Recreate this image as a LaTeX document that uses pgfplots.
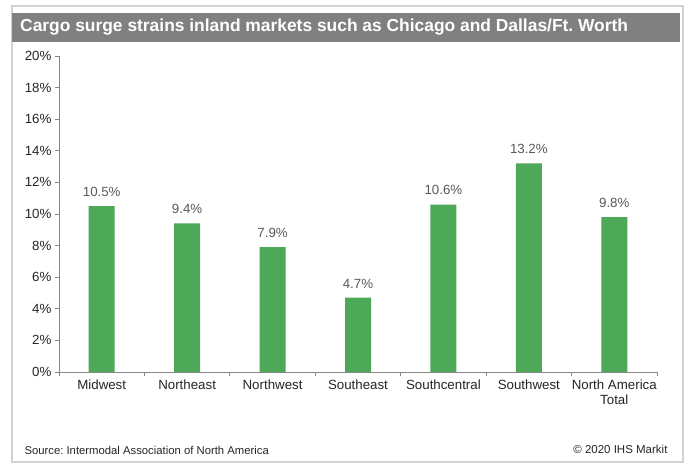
\documentclass[border=0pt]{standalone}
\usepackage{pgfplots}
\pgfplotsset{compat=1.18}
\usepackage{fontspec}
\setmainfont{Liberation Sans}
\frenchspacing
\definecolor{barg}{RGB}{77,168,87}
\definecolor{titlegray}{RGB}{128,128,128}
\definecolor{axgray}{RGB}{134,134,134}
\begin{document}
\begin{tikzpicture}[x=1pt,y=1pt]
\useasboundingbox (0,0) rectangle (688,465);
\fill[white] (0,0) rectangle (688,465);
\draw[gray!35, line width=1.5pt] (12,3) rectangle (683,459);
\fill[titlegray] (12,423) rectangle (680,452);
\node[anchor=west, text=white, font=\fontsize{17.4}{20}\selectfont\bfseries, inner sep=0pt] at (20,437.5) {Cargo surge strains inland markets such as Chicago and Dallas/Ft. Worth};
\begin{axis}[
  at={(59pt,93pt)}, anchor=south west,
  width=598pt, height=316pt, scale only axis,
  xmin=-0.5, xmax=6.5, ymin=0, ymax=20,
  axis lines*=left,
  axis line style={axgray, line width=0.8pt},
  every tick/.style={axgray, line width=0.8pt},
  tick align=outside,
  major tick length=4pt, minor tick length=4pt,
  ytick={0,2,...,20},
  yticklabel={\pgfmathprintnumber{\tick}\%},
  xtick={0,...,6},
  xticklabels={Midwest,Northeast,Northwest,Southeast,Southcentral,Southwest,{North America\\Total}},
  major x tick style={draw=none},
  minor xtick={-0.5,0.5,...,6.5},
  ticklabel style={font=\fontsize{13.3}{15}\selectfont, text=black!85},
  x tick label style={align=center},
  /pgf/number format/assume math mode=true,
  ybar, bar width=26pt,
  nodes near coords={\pgfmathprintnumber[fixed,precision=1,fixed zerofill]{\pgfplotspointmeta}\%},
  nodes near coords style={font=\fontsize{13.3}{15}\selectfont, text=black!65, yshift=6pt},
  clip=false,
]
\addplot[fill=barg, draw=none] coordinates {(0,10.5) (1,9.4) (2,7.9) (3,4.7) (4,10.6) (5,13.2) (6,9.8)};
\end{axis}
\node[anchor=west, font=\fontsize{11.3}{13}\selectfont, text=black!85] at (21,15) {Source: Intermodal Association of North America};
\node[anchor=east, font=\fontsize{11.5}{13}\selectfont, text=black!85] at (671,16) {© 2020 IHS Markit};
\end{tikzpicture}
\end{document}
